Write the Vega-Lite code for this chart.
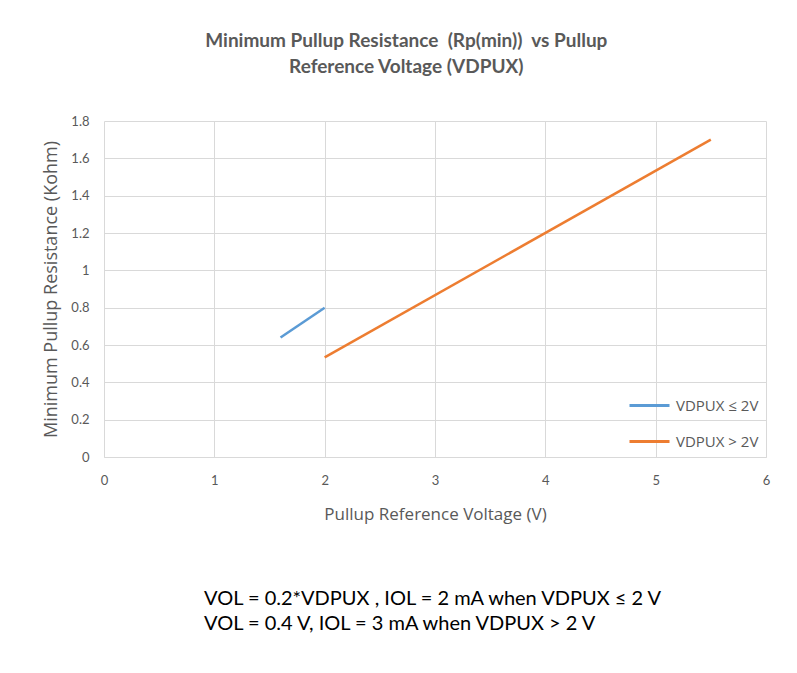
{
  "$schema": "https://vega.github.io/schema/vega-lite/v6.json",
  "background": "white",
  "autosize": {"type": "pad"},
  "padding": {"left": 42, "top": 32, "right": 30, "bottom": 40},
  "title": {
    "text": ["Minimum Pullup Resistance \u00a0(Rp(min)) \u00a0vs Pullup", "Reference Voltage (VDPUX)"],
    "font": "Lato", "fontSize": 19, "fontWeight": "bold", "color": "#595959",
    "lineHeight": 26, "anchor": "middle", "offset": 38
  },
  "resolve": {"legend": {"color": "independent"}},
  "config": {
    "view": {"stroke": null},
    "axis": {
      "labelFont": "Lato", "labelFontSize": 13, "labelColor": "#595959",
      "titleFont": "Open Sans", "titleFontSize": 17, "titleColor": "#595959", "titleFontWeight": "normal",
      "ticks": false, "gridColor": "#d9d9d9", "domainColor": "#d9d9d9"
    },
    "legend": {"labelFont": "Open Sans", "labelFontSize": 15, "labelColor": "#595959"}
  },
  "vconcat": [
    {
      "width": 662,
      "height": 336,
      "title": {
        "text": ["VOL = 0.2*VDPUX , IOL = 2 mA when VDPUX ≤ 2 V", "VOL = 0.4 V, IOL = 3 mA when VDPUX > 2 V"],
        "orient": "bottom", "anchor": "start", "frame": "group", "dx": 100, "offset": 67,
        "font": "Lato", "fontSize": 20, "fontWeight": "normal", "color": "#000000", "lineHeight": 25
      },
      "data": {
        "values": [
          {"series": "VDPUX ≤ 2V", "v": 1.6, "r": 0.64},
          {"series": "VDPUX ≤ 2V", "v": 2.0, "r": 0.8},
          {"series": "VDPUX > 2V", "v": 2.0, "r": 0.5333},
          {"series": "VDPUX > 2V", "v": 5.5, "r": 1.7}
        ]
      },
      "mark": {"type": "line", "strokeWidth": 2.5},
      "encoding": {
        "x": {
          "field": "v", "type": "quantitative",
          "scale": {"domain": [0, 6], "nice": false},
          "axis": {"values": [0, 1, 2, 3, 4, 5, 6], "title": "Pullup Reference Voltage (V)", "labelFlush": false, "labelPadding": 17, "titlePadding": 19, "domain": true}
        },
        "y": {
          "field": "r", "type": "quantitative",
          "scale": {"domain": [0, 1.8], "nice": false},
          "axis": {"values": [0, 0.2, 0.4, 0.6, 0.8, 1, 1.2, 1.4, 1.6, 1.8], "format": "~g", "title": "Minimum Pullup Resistance (Kohm)", "titleFontSize": 18, "labelFlush": false, "labelPadding": 15, "titlePadding": 10, "domain": false}
        },
        "color": {
          "field": "series", "type": "nominal",
          "scale": {"domain": ["VDPUX ≤ 2V", "VDPUX > 2V"], "range": ["#5B9BD5", "#ED7D31"]},
          "legend": {"title": null, "orient": "bottom-right", "offset": 7, "padding": 0, "symbolType": "stroke", "symbolSize": 1600, "symbolStrokeWidth": 3, "rowPadding": 6, "labelOffset": 5}
        }
      }
    }
  ]
}
